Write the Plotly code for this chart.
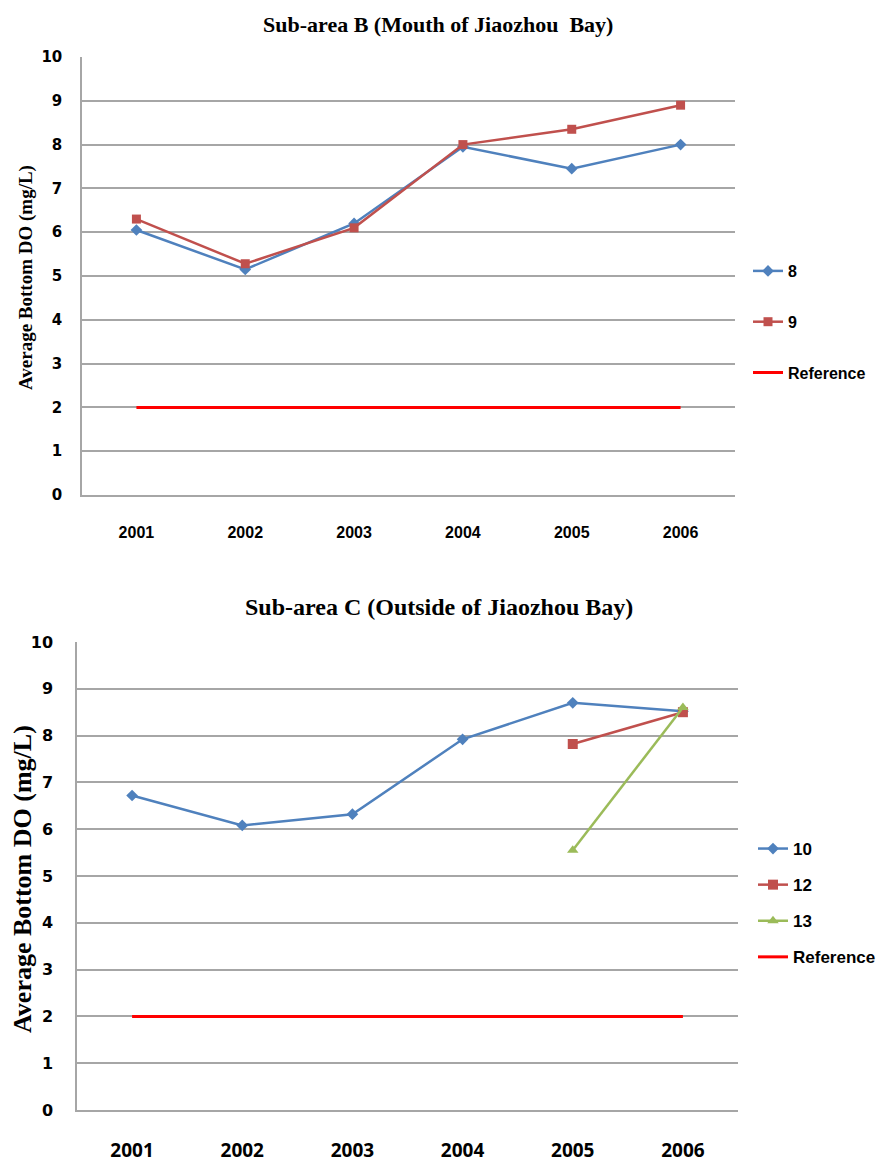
import plotly.graph_objects as go

years = ["2001", "2002", "2003", "2004", "2005", "2006"]

# Sub-area B
b_st8 = [6.05, 5.15, 6.2, 7.95, 7.45, 8.0]
b_st9 = [6.3, 5.28, 6.1, 8.0, 8.35, 8.9]
b_ref = [2, 2, 2, 2, 2, 2]

# Sub-area C
c_years_10 = years
c_st10 = [6.72, 6.08, 6.32, 7.92, 8.7, 8.52]
c_years_12 = ["2005", "2006"]
c_st12 = [7.82, 8.5]
c_years_13 = ["2005", "2006"]
c_st13 = [5.55, 8.6]
c_ref = [2, 2, 2, 2, 2, 2]

y_ticks = list(range(0, 11))

BLUE = "#4F81BD"
RED = "#C0504D"
GREEN = "#9BBB59"
REF = "#FF0000"
GRID = "#A6A6A6"

W, H = 881, 1162
SERIF = "Liberation Serif"
SANS = "Liberation Sans, Arial"
TICKY = "DejaVu Sans"

fig = go.Figure()

def line_trace(x, y, name, color, symbol, size, xa, ya, legend, group, width=2.5):
    return go.Scatter(
        x=x, y=y, name=name, mode="lines+markers" if symbol else "lines",
        line=dict(color=color, width=width),
        marker=dict(symbol=symbol or "circle", size=size, color=color),
        xaxis=xa, yaxis=ya, legend=legend, legendgroup=group,
    )

fig.add_trace(line_trace(years, b_st8, "8", BLUE, "diamond", 9, "x", "y", "legend", "a8"))
fig.add_trace(line_trace(years, b_st9, "9", RED, "square", 9, "x", "y", "legend", "a9"))
fig.add_trace(line_trace(years, b_ref, "Reference", REF, None, 0, "x", "y", "legend", "aref", width=3))

fig.add_trace(line_trace(c_years_10, c_st10, "10", BLUE, "diamond", 9, "x2", "y2", "legend2", "c10"))
fig.add_trace(line_trace(c_years_12, c_st12, "12", RED, "square", 10, "x2", "y2", "legend2", "c12"))
fig.add_trace(line_trace(c_years_13, c_st13, "13", GREEN, "triangle-up", 10, "x2", "y2", "legend2", "c13"))
fig.add_trace(line_trace(years, c_ref, "Reference", REF, None, 0, "x2", "y2", "legend2", "cref", width=3))

def px_x(v):
    return v / W

def px_y(v):
    return 1 - v / H

xcommon = dict(
    type="category", categoryorder="array", categoryarray=years,
    range=[-0.5, 5.5], showgrid=False, showline=True, linecolor=GRID, linewidth=1.5,
    ticks="", zeroline=False, automargin=False,
)
ycommon = dict(
    range=[0, 10], tickvals=y_ticks, showgrid=True, gridcolor=GRID, gridwidth=1.5,
    showline=True, linecolor=GRID, linewidth=1.5, ticks="", zeroline=False,
    automargin=False,
)

fig.update_layout(
    width=W, height=H,
    margin=dict(l=0, r=0, t=0, b=0, autoexpand=False),
    paper_bgcolor="white", plot_bgcolor="white",
    showlegend=True,
    xaxis=dict(xcommon, domain=[px_x(82), px_x(735)], anchor="y",
               tickfont=dict(family=SANS, size=16, color="black", weight="bold"),
               ticklabelstandoff=22),
    yaxis=dict(ycommon, domain=[px_y(495), px_y(57)], anchor="x",
               tickfont=dict(family=TICKY, size=15, color="black", weight="bold"),
               ticklabelstandoff=15),
    xaxis2=dict(xcommon, domain=[px_x(77), px_x(738)], anchor="y2",
                tickfont=dict(family="Open Sans", size=19, color="black", weight="bold"),
                ticklabelstandoff=22),
    yaxis2=dict(ycommon, domain=[px_y(1110), px_y(642)], anchor="x2",
                tickfont=dict(family=TICKY, size=16, color="black", weight="bold"),
                ticklabelstandoff=19),
    legend=dict(x=px_x(748), y=px_y(254), xanchor="left", yanchor="top",
                font=dict(family=SANS, size=16, color="black", weight="bold"),
                tracegroupgap=27, bgcolor="rgba(0,0,0,0)", itemwidth=30),
    legend2=dict(x=px_x(753), y=px_y(831), xanchor="left", yanchor="top",
                 font=dict(family=SANS, size=17, color="black", weight="bold"),
                 tracegroupgap=11, bgcolor="rgba(0,0,0,0)", itemwidth=30),
    annotations=[
        dict(text="<b>Sub-area B (Mouth of Jiaozhou  Bay)</b>", x=px_x(438), y=px_y(25),
             xref="paper", yref="paper", showarrow=False, xanchor="center", yanchor="middle",
             font=dict(family=SERIF, size=22, color="black")),
        dict(text="<b>Sub-area C (Outside of Jiaozhou Bay)</b>", x=px_x(439), y=px_y(607),
             xref="paper", yref="paper", showarrow=False, xanchor="center", yanchor="middle",
             font=dict(family=SERIF, size=24, color="black")),
        dict(text="<b>Average Bottom DO (mg/L)</b>", x=px_x(26), y=px_y(278),
             xref="paper", yref="paper", showarrow=False, textangle=-90,
             xanchor="center", yanchor="middle",
             font=dict(family=SERIF, size=19, color="black")),
        dict(text="<b>Average Bottom DO (mg/L)</b>", x=px_x(22), y=px_y(879),
             xref="paper", yref="paper", showarrow=False, textangle=-90,
             xanchor="center", yanchor="middle",
             font=dict(family=SERIF, size=26, color="black")),
    ],
)

fig.write_html("out.html", post_script="document.body.style.margin='0';",
               config={"displayModeBar": False})
